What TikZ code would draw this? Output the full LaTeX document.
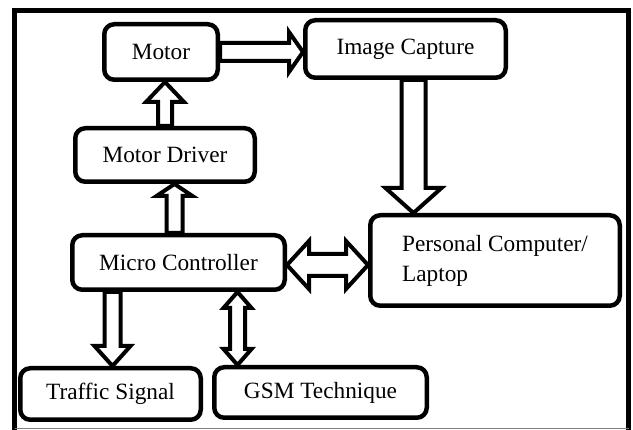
\documentclass[tikz,border=0pt]{standalone}
\usepackage{fontspec}
\setmainfont{Liberation Serif}
\usepackage{tikz}
\usetikzlibrary{calc}

% block arrows: from, to, shaft half width, head half width, head length
\newcommand{\fatarrow}[5]{%
  \draw [fatline] let \p1=(#1), \p2=(#2), \n1={veclen(\x2-\x1,\y2-\y1)}, \n2={atan2(\y2-\y1,\x2-\x1)} in
    [shift={(\p1)}, rotate=\n2] (0pt,#3pt) -- (\n1-#5pt,#3pt) -- (\n1-#5pt,#4pt) -- (\n1,0pt)
    -- (\n1-#5pt,-#4pt) -- (\n1-#5pt,-#3pt) -- (0pt,-#3pt) -- cycle;}
\newcommand{\fatdarrow}[5]{%
  \draw [fatline] let \p1=(#1), \p2=(#2), \n1={veclen(\x2-\x1,\y2-\y1)}, \n2={atan2(\y2-\y1,\x2-\x1)} in
    [shift={(\p1)}, rotate=\n2] (0pt,0pt) -- (#5pt,#4pt) -- (#5pt,#3pt) -- (\n1-#5pt,#3pt) -- (\n1-#5pt,#4pt) -- (\n1,0pt)
    -- (\n1-#5pt,-#4pt) -- (\n1-#5pt,-#3pt) -- (#5pt,-#3pt) -- (#5pt,-#4pt) -- cycle;}

\tikzset{
  block/.style={draw, line width=4.5pt, rounded corners=10pt, inner sep=0pt, font=\rmfamily\fontsize{23.3}{30}\selectfont},
  fatline/.style={draw, fill=white, line width=4pt, line join=miter}
}

\begin{document}
\begin{tikzpicture}[x=1pt, y=-1pt]
            \useasboundingbox (0,0) rectangle (633,430);
            \draw [line width=5pt] (14.5,430) -- (14.5,11) -- (628.5,11) -- (628.5,430);
            \draw [gray, line width=1pt] (14.5,429) -- (628.5,429);

            \node (motor) [block, minimum width=113.5pt, minimum height=55.5pt] at (161,52) {Motor};
            \node (capture) [block, minimum width=200.5pt, minimum height=57.5pt] at (405.5,49) {Image Capture};
            \node (driver) [block, minimum width=179.5pt, minimum height=53.5pt] at (165,155) {Motor Driver};
            \node (micro) [block, minimum width=212.5pt, minimum height=54.5pt] at (178.5,262.5) {Micro Controller};
            \node (pc) [block, minimum width=249.5pt, minimum height=90.5pt, align=left] at (495,260.5) {Personal Computer/\\Laptop};
            \node (signal) [block, minimum width=180.5pt, minimum height=51.5pt] at (110.5,394) {Traffic Signal};
            \node (gsm) [block, minimum width=212.5pt, minimum height=50.5pt] at (320.5,392.5) {GSM Technique};

            \coordinate (m1) at ($(micro.north)+(-4,0)$);
            \coordinate (c1) at ($(capture.south)+(8,0)$);
            \coordinate (m2) at ($(micro.east)+(0,2.5)$);
            \coordinate (m3) at ($(micro.south -| signal.north)+(2,0)$);
            \coordinate (m4) at ($(micro.south)+(59,0)$);

            \fatarrow{motor.east}{motor.east -| capture.west}{9}{20}{14}
            \fatarrow{driver.north}{driver.north |- motor.south}{7}{19}{20}
            \fatarrow{m1}{m1 |- driver.south}{8}{18}{12}
            \fatarrow{c1}{c1 |- pc.north}{12}{28}{25}
            \fatdarrow{m2}{m2 -| pc.west}{11}{24}{22}
            \fatarrow{m3}{m3 |- signal.north}{8}{18}{20}
            \fatdarrow{m4}{m4 |- gsm.north}{7.5}{14}{16}
        \end{tikzpicture}
\end{document}
